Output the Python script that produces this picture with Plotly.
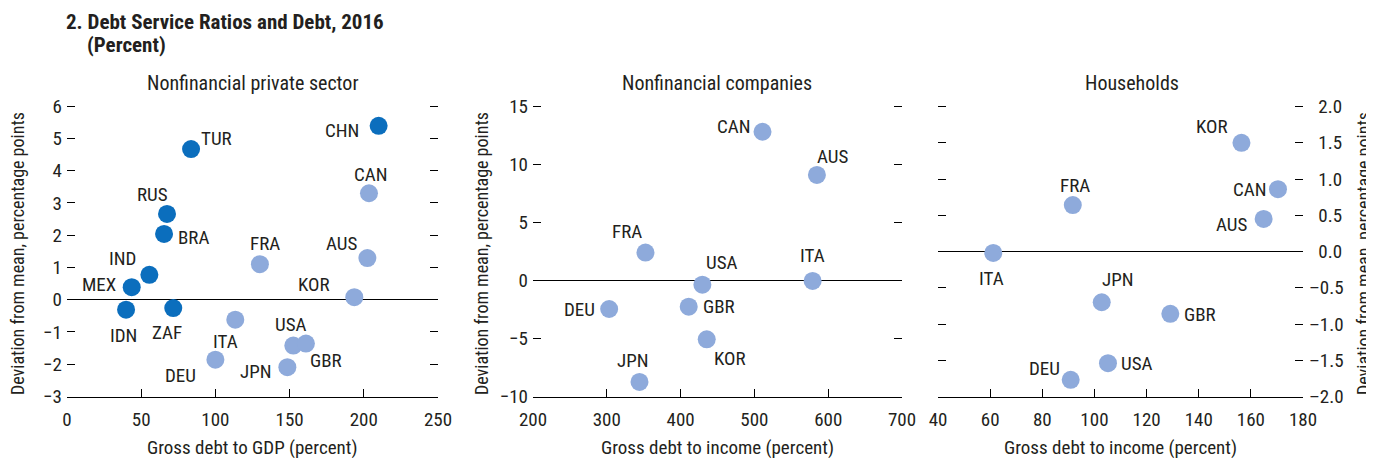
"""Debt service ratios vs. debt, 2016 — three scatter panels."""

import plotly.graph_objects as go

# the page body has an 8px margin, so the figure is drawn 8px smaller
OFF = 8
W, H = 1374 - OFF, 458 - OFF
FONT = "Roboto Condensed, Liberation Sans Narrow, Arial Narrow, DejaVu Sans Condensed, sans-serif"
DARK = "#0b6ebd"
LIGHT = "#8eaadb"
TEXT = "#231f20"

# Panel 1: nonfinancial private sector (dark = emerging markets)
p1_countries = ["TUR", "CHN", "RUS", "BRA", "IND", "MEX", "IDN", "ZAF",
                "CAN", "AUS", "FRA", "KOR", "ITA", "USA", "GBR", "DEU", "JPN"]
p1_debt = [83.6, 210.0, 67.4, 65.4, 55.5, 43.6, 39.8, 71.6,
           203.5, 202.4, 130.0, 193.6, 113.4, 152.5, 161.0, 100.0, 148.5]
p1_dsr = [4.67, 5.39, 2.66, 2.04, 0.77, 0.39, -0.31, -0.26,
          3.30, 1.29, 1.10, 0.08, -0.62, -1.42, -1.36, -1.86, -2.09]
p1_emerging = [1, 1, 1, 1, 1, 1, 1, 1, 0, 0, 0, 0, 0, 0, 0, 0, 0]

# Panel 2: nonfinancial companies
p2_countries = ["CAN", "AUS", "FRA", "USA", "ITA", "DEU", "GBR", "KOR", "JPN"]
p2_debt = [511.0, 584.7, 352.4, 429.5, 578.9, 303.2, 411.0, 435.4, 344.3]
p2_dsr = [12.84, 9.12, 2.42, -0.35, -0.03, -2.45, -2.25, -5.07, -8.74]

# Panel 3: households
p3_countries = ["KOR", "CAN", "AUS", "FRA", "ITA", "JPN", "GBR", "USA", "DEU"]
p3_debt = [156.4, 170.4, 164.9, 91.7, 61.2, 102.8, 129.1, 105.2, 90.9]
p3_dsr = [1.50, 0.86, 0.45, 0.64, -0.02, -0.70, -0.86, -1.54, -1.77]

# tick values
p1_xticks = [0, 50, 100, 150, 200, 250]
p1_yticks = [-3, -2, -1, 0, 1, 2, 3, 4, 5, 6]
p2_xticks = [200, 300, 400, 500, 600, 700]
p2_yticks = [-10, -5, 0, 5, 10, 15]
p3_xticks = [40, 60, 80, 100, 120, 140, 160, 180]
p3_yticks = [-2.0, -1.5, -1.0, -0.5, 0.0, 0.5, 1.0, 1.5, 2.0]

# label offsets from the marker centre, in pixels (dx right, dy up)
p1_label_off = {
    "TUR": (25, 11), "CHN": (-37, -5), "RUS": (-15, 19), "BRA": (29, -4),
    "IND": (-27, 16), "MEX": (-33, 3), "IDN": (-3, -26), "ZAF": (-6, -24),
    "CAN": (2, 19), "AUS": (-26, 15), "FRA": (5, 21), "KOR": (-40, 13),
    "ITA": (-10, -22), "USA": (-2, 21), "GBR": (20, -17), "DEU": (-35, -16),
    "JPN": (-31, -4),
}
p2_label_off = {
    "CAN": (-29, 5), "AUS": (16, 18), "FRA": (-18, 21), "USA": (20, 22),
    "ITA": (0, 25), "DEU": (-30, -1), "GBR": (30, 0), "KOR": (23, -19),
    "JPN": (-6, 21),
}
p3_label_off = {
    "KOR": (-29, 16), "CAN": (-28, 0), "AUS": (-32, -6), "FRA": (2, 20),
    "ITA": (-2, -26), "JPN": (16, 23), "GBR": (30, -1), "USA": (29, 0),
    "DEU": (-26, 11),
}


def px_x(p):
    return (p - OFF) / W


def px_y(p):
    return (H - (p - OFF)) / H


Y_DOM = [px_y(396.5), px_y(100)]
panels = [
    dict(n="", dom=[px_x(67), px_x(438)], xr=[0, 250], yr=[-3.0, 6.19],
         xt=p1_xticks, yt=p1_yticks, side="left"),
    dict(n="2", dom=[px_x(533), px_x(902)], xr=[200, 700], yr=[-10.0, 15.58],
         xt=p2_xticks, yt=p2_yticks, side="left"),
    dict(n="3", dom=[px_x(938), px_x(1303)], xr=[40, 180], yr=[-2.0, 2.09],
         xt=p3_xticks, yt=p3_yticks, side="right"),
]

fig = go.Figure()

series = [
    (p1_countries, p1_debt, p1_dsr, [DARK if e else LIGHT for e in p1_emerging], p1_label_off),
    (p2_countries, p2_debt, p2_dsr, [LIGHT] * len(p2_debt), p2_label_off),
    (p3_countries, p3_debt, p3_dsr, [LIGHT] * len(p3_debt), p3_label_off),
]

annotations = []
for panel, (names, xs, ys, colors, offs) in zip(panels, series):
    n = panel["n"]
    fig.add_trace(go.Scatter(
        x=xs, y=ys, mode="markers", xaxis="x" + n, yaxis="y" + n,
        marker=dict(size=18, color=colors, line=dict(width=0)),
        text=names, hovertemplate="%{text}: %{x}, %{y}<extra></extra>",
        showlegend=False,
    ))
    for name, x, y in zip(names, xs, ys):
        dx, dy = offs[name]
        annotations.append(dict(
            x=x, y=y, xref="x" + n, yref="y" + n, text=name, showarrow=False,
            xanchor="center", yanchor="middle",
            xshift=dx, yshift=dy, font=dict(size=19, color=TEXT),
        ))

    if panel["side"] == "right":
        ticktext = [("\u2007" if v >= 0 else "\u2013") + f"{abs(v):.1f}" for v in panel["yt"]]
        standoff = 5
    else:
        ticktext = [f"{v:g}".replace("-", "\u2212") for v in panel["yt"]]
        standoff = 4

    fig.update_layout({
        "xaxis" + n: dict(
            domain=panel["dom"], range=panel["xr"], anchor="y" + n,
            tickvals=panel["xt"], ticks="inside", ticklen=8, tickcolor="black",
            showline=True, linecolor="black", linewidth=1, automargin=False,
            showgrid=False, zeroline=False, fixedrange=True,
            tickfont=dict(size=19, color=TEXT), ticklabelstandoff=6,
        ),
        "yaxis" + n: dict(
            domain=Y_DOM, range=panel["yr"], anchor="x" + n, side=panel["side"],
            tickvals=panel["yt"], ticktext=ticktext, automargin=False,
            ticks="inside", ticklen=8, tickcolor="black", mirror="ticks",
            showline=False, showgrid=False,
            zeroline=True, zerolinecolor="black", zerolinewidth=1,
            fixedrange=True, tickfont=dict(size=19, color=TEXT),
            ticklabelstandoff=standoff,
        ),
    })


def paper_text(text, cx, cy, size, angle=0, **kw):
    return dict(x=px_x(cx), y=px_y(cy), xref="paper", yref="paper", text=text,
                textangle=angle, showarrow=False, xanchor=kw.get("xanchor", "center"),
                yanchor="middle", font=dict(size=size, color=TEXT))


# panel titles
for text, cx in [("Nonfinancial private sector", 252), ("Nonfinancial companies", 717),
                 ("Households", 1132)]:
    annotations.append(paper_text(text, cx, 83, 20))

# x-axis titles
for text, cx in [("Gross debt to GDP (percent)", 252), ("Gross debt to income (percent)", 717),
                 ("Gross debt to income (percent)", 1120)]:
    annotations.append(paper_text(text, cx, 447, 19))

# y-axis titles
for cx in [18, 482, 1364]:
    annotations.append(paper_text("Deviation from mean, percentage points", cx, 254, 18, angle=-90))

# main title
annotations.append(paper_text("<b>2. Debt Service Ratios and Debt, 2016</b>", 64, 22, 21,
                              xanchor="left"))
annotations.append(paper_text("<b>(Percent)</b>", 85, 45, 21, xanchor="left"))

fig.update_layout(
    width=W, height=H, autosize=False,
    margin=dict(l=0, r=0, t=0, b=0, autoexpand=False),
    paper_bgcolor="white", plot_bgcolor="white",
    font=dict(family=FONT, color=TEXT),
    annotations=annotations,
)

fig.write_html("out.html")
